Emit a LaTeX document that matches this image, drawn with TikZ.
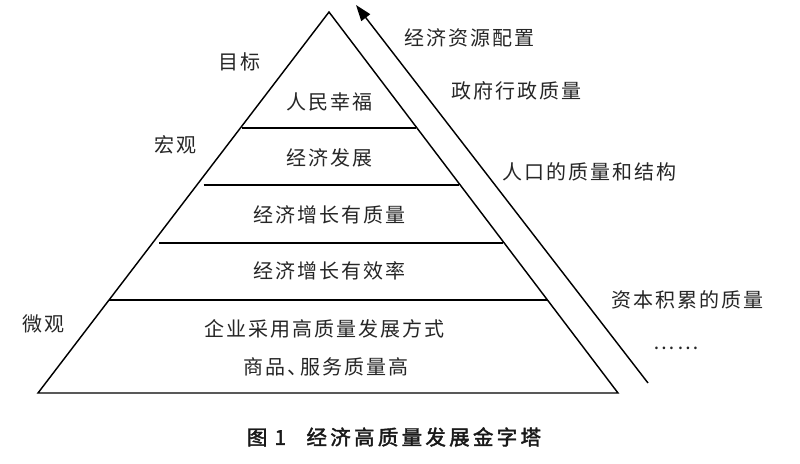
\documentclass[tikz,border=0pt]{standalone}
\usepackage{fontspec}
\setmainfont{Noto Sans CJK SC}
\newfontfamily\lblfont[LetterSpace=10]{Noto Sans CJK SC}
\newfontfamily\capfont[LetterSpace=16,FakeBold=2]{Noto Sans CJK SC}
\usetikzlibrary{arrows.meta}
\begin{document}
\begin{tikzpicture}[x=1pt,y=-1pt,
  edge/.style={line width=1.45pt, black},
  lbl/.style={font=\lblfont\fontsize{20}{22}\selectfont, inner sep=0pt, text=black!85},
  captext/.style={font=\capfont\fontsize{20.5}{22}\selectfont, inner sep=0pt, text=black!90}]
\useasboundingbox (0,0) rectangle (800,463);
\fill[white] (0,0) rectangle (800,463);
% pyramid
\coordinate (apex) at (329,12);
\coordinate (bl) at (38,393);
\coordinate (br) at (618,393);
\draw[edge, line join=miter] (apex) -- (bl) -- (br) -- cycle;
\coordinate (l1) at (241.5,128); \coordinate (r1) at (416,128);
\coordinate (l2) at (203.5,185); \coordinate (r2) at (459,185);
\coordinate (l3) at (159,243);  \coordinate (r3) at (503,243);
\coordinate (l4) at (109,300);  \coordinate (r4) at (547,300);
\draw[edge] (l1) -- (r1);
\draw[edge] (l2) -- (r2);
\draw[edge] (l3) -- (r3);
\draw[edge] (l4) -- (r4);
% arrow
\coordinate (as) at (648,383);
\coordinate (ae) at (356,5);
\draw[edge, -{Triangle[length=16pt,width=11pt]}] (as) -- (ae);
% layer texts
\node[lbl] (t1) at (329,102) {人民幸福};
\node[lbl] (t2) at (329,158) {经济发展};
\node[lbl] (t3) at (329,215) {经济增长有质量};
\node[lbl] (t4) at (329,271) {经济增长有效率};
\node[lbl] (t5) at (324,329) {企业采用高质量发展方式};
\node[lbl] (t6) at (326,367) {商品、\kern-7pt服务质量高};
% left labels
\node[lbl] (g1) at (239,62) {目标};
\node[lbl] (g2) at (175,145) {宏观};
\node[lbl] (g3) at (43,324) {微观};
% right labels
\node[lbl] (r1t) at (469,38) {经济资源配置};
\node[lbl] (r2t) at (516,91) {政府行政质量};
\node[lbl] (r3t) at (589,172) {人口的质量和结构};
\node[lbl] (r4t) at (687,300) {资本积累的质量};
\node[lbl] (r5t) at (676,348) {……};
% caption
\node[captext] (capt) at (394,437) {图\hspace{0.35em}1\hspace{1.0em}经济高质量发展金字塔};
\end{tikzpicture}
\end{document}
